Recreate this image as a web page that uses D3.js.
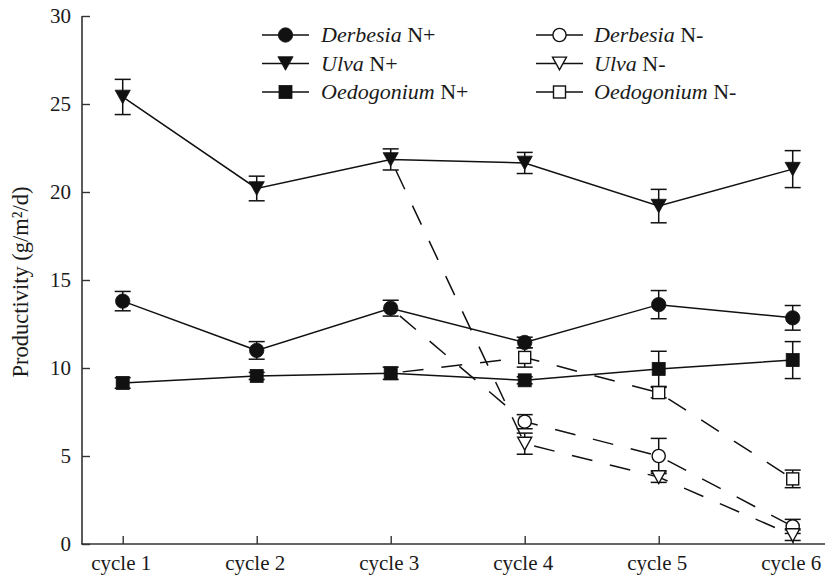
<!DOCTYPE html>
<html>
<head>
<meta charset="utf-8">
<script src="https://cdn.jsdelivr.net/npm/d3@7"></script>
<style>
  html, body { margin: 0; padding: 0; background: #fff; }
  svg { display: block; }
  text { font-family: "Liberation Serif", "DejaVu Serif", serif; fill: #1a1a1a; }
</style>
</head>
<body>
<svg id="chart" width="825" height="579"></svg>
<script>
// Cycles on the x axis
const cycles = ["cycle 1", "cycle 2", "cycle 3", "cycle 4", "cycle 5", "cycle 6"];
const yTicks = [0, 5, 10, 15, 20, 25, 30];

// Nutrient-replete (N+) productivity, all six cycles
const derbesiaPlus      = [13.8, 11.0, 13.4, 11.45, 13.6, 12.85];
const derbesiaPlusErr   = [0.55, 0.5, 0.45, 0.3, 0.8, 0.7];
const ulvaPlus          = [25.4, 20.2, 21.85, 21.65, 19.2, 21.3];
const ulvaPlusErr       = [1.0, 0.7, 0.6, 0.6, 0.95, 1.05];
const oedogoniumPlus    = [9.15, 9.55, 9.7, 9.3, 9.95, 10.45];
const oedogoniumPlusErr = [0.3, 0.2, 0.35, 0.2, 1.0, 1.05];

// Nutrient-starved (N-) productivity: cycles 4-6 (starvation began after cycle 3)
const minusCycles        = ["cycle 4", "cycle 5", "cycle 6"];
const derbesiaMinus      = [6.95, 5.0, 1.0];
const derbesiaMinusErr   = [0.4, 1.0, 0.4];
const ulvaMinus          = [5.7, 3.8, 0.5];
const ulvaMinusErr       = [0.6, 0.3, 0.3];
const oedogoniumMinus    = [10.6, 8.6, 3.7];
const oedogoniumMinusErr = [0.55, 0.3, 0.5];
const branchCycle = "cycle 3";

const series = [
  { name: "Derbesia",   tag: "N+", shape: "circle",   filled: true,  cats: cycles,      values: derbesiaPlus,    errs: derbesiaPlusErr },
  { name: "Ulva",       tag: "N+", shape: "triangle", filled: true,  cats: cycles,      values: ulvaPlus,        errs: ulvaPlusErr },
  { name: "Oedogonium", tag: "N+", shape: "square",   filled: true,  cats: cycles,      values: oedogoniumPlus,  errs: oedogoniumPlusErr },
  { name: "Derbesia",   tag: "N-", shape: "circle",   filled: false, cats: minusCycles, values: derbesiaMinus,   errs: derbesiaMinusErr,   from: derbesiaPlus },
  { name: "Ulva",       tag: "N-", shape: "triangle", filled: false, cats: minusCycles, values: ulvaMinus,       errs: ulvaMinusErr,       from: ulvaPlus },
  { name: "Oedogonium", tag: "N-", shape: "square",   filled: false, cats: minusCycles, values: oedogoniumMinus, errs: oedogoniumMinusErr, from: oedogoniumPlus }
];

const svg = d3.select("#chart");
const axisX0 = 82, axisY0 = 544, plotTop = 16, plotRight = 825;
const FONT = 21;

const x = d3.scalePoint().domain(cycles).range([122.7, 792.7]).padding(0);
const y = d3.scaleLinear().domain([0, 30]).range([axisY0, plotTop]);

// Axes
const axisColor = "#333";
svg.append("line").attr("x1", axisX0).attr("x2", axisX0).attr("y1", plotTop).attr("y2", axisY0)
  .attr("stroke", axisColor).attr("stroke-width", 1.6);
svg.append("line").attr("x1", axisX0 - 0.8).attr("x2", plotRight).attr("y1", axisY0).attr("y2", axisY0)
  .attr("stroke", axisColor).attr("stroke-width", 1.6);

const yAxis = d3.axisRight(y).tickValues(yTicks).tickSize(8).tickFormat("");
svg.append("g").attr("transform", `translate(${axisX0},0)`).call(yAxis)
  .call(g => g.select(".domain").remove())
  .call(g => g.selectAll("line").attr("stroke", axisColor).attr("stroke-width", 1.4));
svg.append("g").selectAll("text").data(yTicks).join("text")
  .attr("x", 71).attr("y", d => y(d)).attr("dy", "0.34em")
  .attr("text-anchor", "end").attr("font-size", FONT).text(d => d);

const xAxis = d3.axisTop(x).tickSize(8).tickFormat("");
svg.append("g").attr("transform", `translate(0,${axisY0})`).call(xAxis)
  .call(g => g.select(".domain").remove())
  .call(g => g.selectAll("line").attr("stroke", axisColor).attr("stroke-width", 1.4));
svg.append("g").selectAll("text").data(cycles).join("text")
  .attr("x", d => x(d) - 1.5).attr("y", 570)
  .attr("text-anchor", "middle").attr("font-size", FONT).text(d => d);

svg.append("text")
  .attr("transform", "translate(28,282) rotate(-90)")
  .attr("text-anchor", "middle").attr("font-size", 22.5)
  .text("Productivity (g/m²/d)");

// Marker drawing
function marker(sel, shape, filled) {
  const fill = filled ? "#111" : "#fff";
  const stroke = "#111";
  if (shape === "circle") {
    sel.append("circle").attr("r", filled ? 7.2 : 6.6).attr("fill", fill).attr("stroke", stroke).attr("stroke-width", filled ? 0.8 : 1.4);
  } else if (shape === "square") {
    const s = filled ? 13 : 12;
    sel.append("rect").attr("x", -s / 2).attr("y", -s / 2).attr("width", s).attr("height", s)
      .attr("fill", fill).attr("stroke", stroke).attr("stroke-width", filled ? 0.8 : 1.4);
  } else {
    const w = filled ? 7.6 : 7.0, h = filled ? 6.8 : 6.4;
    sel.append("path").attr("d", `M${-w},${-h}L${w},${-h}L0,${h}Z`)
      .attr("fill", fill).attr("stroke", stroke).attr("stroke-width", filled ? 0.8 : 1.4)
      .attr("stroke-linejoin", "miter");
  }
}

const line = d3.line().x(d => x(d.c)).y(d => y(d.v));
const plot = svg.append("g");

// Connecting lines: solid for N+, dashed for N- branching off the cycle 3 N+ value
series.forEach(s => {
  let pts = s.cats.map((c, i) => ({ c, v: s.values[i] }));
  const dashed = !s.filled;
  if (dashed) pts = [{ c: branchCycle, v: s.from[cycles.indexOf(branchCycle)] }].concat(pts);
  plot.append("path").attr("d", line(pts)).attr("fill", "none")
    .attr("stroke", "#111").attr("stroke-width", 1.5)
    .attr("stroke-dasharray", dashed ? "21,18" : null)
    .attr("stroke-dashoffset", dashed ? -12 : null);
});

// Error bars
series.forEach(s => {
  s.cats.forEach((c, i) => {
    const cx = x(c), v = s.values[i], e = s.errs[i];
    const g = plot.append("g").attr("stroke", "#111").attr("stroke-width", 1.5);
    g.append("line").attr("x1", cx).attr("x2", cx).attr("y1", y(v + e)).attr("y2", y(v - e));
    g.append("line").attr("x1", cx - 8).attr("x2", cx + 8).attr("y1", y(v + e)).attr("y2", y(v + e));
    g.append("line").attr("x1", cx - 8).attr("x2", cx + 8).attr("y1", y(v - e)).attr("y2", y(v - e));
  });
});

// Markers
series.forEach(s => {
  s.cats.forEach((c, i) => {
    const g = plot.append("g").attr("transform", `translate(${x(c)},${y(s.values[i])})`);
    marker(g, s.shape, s.filled);
  });
});

// Legend: two columns (N+ left, N- right), three rows
const legendRows = [35, 63.5, 92];
const legendCols = [{ x0: 262, x1: 309, m: 285.5, tx: 321 }, { x0: 536, x1: 583, m: 559.5, tx: 594 }];
series.forEach((s, k) => {
  const col = legendCols[s.filled ? 0 : 1];
  const row = legendRows[k % 3];
  const g = svg.append("g");
  g.append("line").attr("x1", col.x0).attr("x2", col.x1).attr("y1", row).attr("y2", row)
    .attr("stroke", "#111").attr("stroke-width", 1.5);
  marker(g.append("g").attr("transform", `translate(${col.m},${row})`), s.shape, s.filled);
  const t = g.append("text").attr("x", col.tx).attr("y", row + 7).attr("font-size", 22);
  t.append("tspan").attr("font-style", "italic").text(s.name);
  t.append("tspan").text(" " + s.tag);
});
</script>
</body>
</html>
